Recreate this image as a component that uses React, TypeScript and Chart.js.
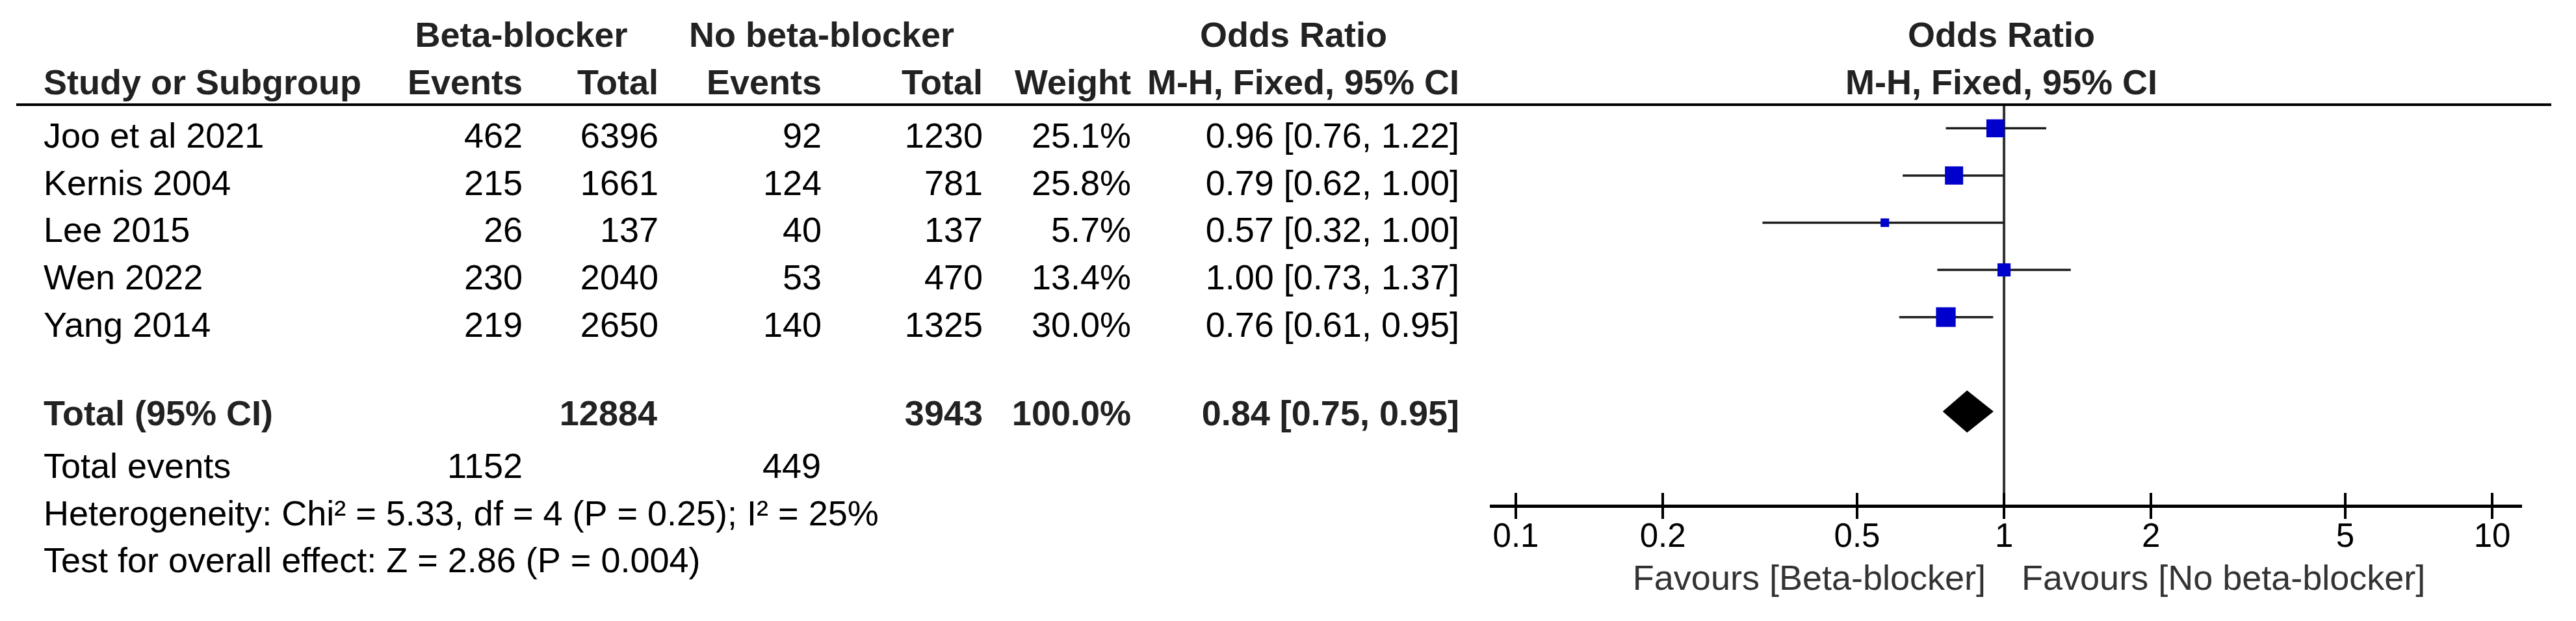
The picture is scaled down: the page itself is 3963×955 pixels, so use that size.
import React, { useEffect, useRef } from 'react';
import { Chart, registerables } from 'chart.js';

Chart.register(...registerables);

// ---------- data ----------
const studyNames = ['Joo et al 2021', 'Kernis 2004', 'Lee 2015', 'Wen 2022', 'Yang 2014'];
const bbEvents = [462, 215, 26, 230, 219];
const bbTotal = [6396, 1661, 137, 2040, 2650];
const noEvents = [92, 124, 40, 53, 140];
const noTotal = [1230, 781, 137, 470, 1325];
const weights = [25.1, 25.8, 5.7, 13.4, 30.0];
const oddsRatios = [0.96, 0.79, 0.57, 1.0, 0.76];
const ciLow = [0.76, 0.62, 0.32, 0.73, 0.61];
const ciHigh = [1.22, 1.0, 1.0, 1.37, 0.95];
const pooledOR = [0.84];
const pooledLow = [0.75];
const pooledHigh = [0.95];
const totalParticipants = [12884, 3943];
const totalEvents = [1152, 449];
const xTickValues = [0.1, 0.2, 0.5, 1, 2, 5, 10];
const xTickLabels = ['0.1', '0.2', '0.5', '1', '2', '5', '10'];
const heterogeneityText = 'Heterogeneity: Chi\u00B2 = 5.33, df = 4 (P = 0.25); I\u00B2 = 25%';
const overallText = 'Test for overall effect: Z = 2.86 (P = 0.004)';
const favoursLeft = 'Favours [Beta-blocker]';
const favoursRight = 'Favours [No beta-blocker]';

const FONT = 'Arial, "Liberation Sans", sans-serif';
const TOTAL_ROW = 6;

const fmt2 = (v: number) => v.toFixed(2);
const ciText = (o: number, l: number, h: number) => `${fmt2(o)} [${fmt2(l)}, ${fmt2(h)}]`;

export default function App() {
  const ref = useRef<HTMLCanvasElement>(null);

  useEffect(() => {
    const canvas = ref.current;
    if (!canvas) return;

    const ciDatasets: any[] = studyNames.map((name, i) => ({
      type: 'line',
      label: name + ' CI',
      data: [
        { x: ciLow[i], y: i },
        { x: ciHigh[i], y: i },
      ],
      borderColor: '#1e1e1e',
      borderWidth: 3.5,
      pointRadius: 0,
      fill: false,
      tension: 0,
      order: 2,
    }));

    const squares: any = {
      type: 'scatter',
      label: 'Odds ratio',
      data: oddsRatios.map((v, i) => ({ x: v, y: i })),
      pointStyle: 'rect',
      pointRadius: weights.map((w) => 3.9 * Math.sqrt(w)),
      pointHoverRadius: weights.map((w) => 3.9 * Math.sqrt(w)),
      backgroundColor: '#0000CC',
      borderColor: '#0000CC',
      borderWidth: 0,
      order: 0,
    };

    const dh = 0.44;
    const diamond: any = {
      type: 'line',
      label: 'Pooled',
      data: [
        { x: pooledLow[0], y: TOTAL_ROW },
        { x: pooledOR[0], y: TOTAL_ROW - dh },
        { x: pooledHigh[0], y: TOTAL_ROW },
        { x: pooledOR[0], y: TOTAL_ROW + dh },
        { x: pooledLow[0], y: TOTAL_ROW },
      ],
      borderColor: '#000',
      backgroundColor: '#000',
      borderWidth: 1,
      pointRadius: 0,
      fill: 'shape',
      tension: 0,
      order: 0,
    };

    const refLine: any = {
      type: 'line',
      label: 'No effect',
      data: [
        { x: 1, y: -0.5 },
        { x: 1, y: 8 },
      ],
      borderColor: '#333',
      borderWidth: 4,
      pointRadius: 0,
      fill: false,
      order: 3,
    };

    const tablePlugin = {
      id: 'forestTable',
      afterDraw(chart: any) {
        const ctx: CanvasRenderingContext2D = chart.ctx;
        const xs = chart.scales.x;
        const ys = chart.scales.y;
        ctx.save();
        const txt = (
          s: string,
          px: number,
          py: number,
          align: CanvasTextAlign,
          bold = false,
          color = '#000',
          size = 54
        ) => {
          ctx.font = `${bold ? 'bold ' : ''}${size}px ${FONT}`;
          ctx.fillStyle = color;
          ctx.textAlign = align;
          ctx.textBaseline = 'alphabetic';
          ctx.fillText(s, px, py);
        };
        const H = '#222';
        // header row 1
        txt('Beta-blocker', 802, 72, 'center', true, H);
        txt('No beta-blocker', 1264, 72, 'center', true, H);
        txt('Odds Ratio', 1990, 72, 'center', true, H);
        const x1 = xs.getPixelForValue(1) - 4;
        txt('Odds Ratio', x1, 72, 'center', true, H);
        // header row 2
        txt('Study or Subgroup', 67, 145, 'left', true, H);
        txt('Events', 804, 145, 'right', true, H);
        txt('Total', 1013, 145, 'right', true, H);
        txt('Events', 1264, 145, 'right', true, H);
        txt('Total', 1512, 145, 'right', true, H);
        txt('Weight', 1740, 145, 'right', true, H);
        txt('M-H, Fixed, 95% CI', 2245, 145, 'right', true, H);
        txt('M-H, Fixed, 95% CI', x1, 145, 'center', true, H);

        // header rule
        ctx.fillStyle = '#000';
        ctx.fillRect(25, 159, 3900, 4);

        // study rows
        studyNames.forEach((name, i) => {
          const by = ys.getPixelForValue(i) + 30;
          txt(name, 67, by, 'left');
          txt(String(bbEvents[i]), 804, by, 'right');
          txt(String(bbTotal[i]), 1013, by, 'right');
          txt(String(noEvents[i]), 1264, by, 'right');
          txt(String(noTotal[i]), 1512, by, 'right');
          txt(weights[i].toFixed(1) + '%', 1740, by, 'right');
          txt(ciText(oddsRatios[i], ciLow[i], ciHigh[i]), 2245, by, 'right');
        });

        // total row
        const ty = ys.getPixelForValue(TOTAL_ROW) + 21;
        txt('Total (95% CI)', 67, ty, 'left', true, H);
        txt(String(totalParticipants[0]), 1011, ty, 'right', true, H);
        txt(String(totalParticipants[1]), 1512, ty, 'right', true, H);
        txt('100.0%', 1740, ty, 'right', true, H);
        txt(ciText(pooledOR[0], pooledLow[0], pooledHigh[0]), 2245, ty, 'right', true, H);

        txt('Total events', 67, 735, 'left');
        txt(String(totalEvents[0]), 804, 735, 'right');
        txt(String(totalEvents[1]), 1263, 735, 'right');
        txt(heterogeneityText, 67, 808, 'left');
        txt(overallText, 67, 880, 'left');

        // upper halves of the axis ticks
        const axisY = chart.chartArea.bottom;
        ctx.strokeStyle = '#000';
        ctx.lineWidth = 4;
        xTickValues.forEach((v) => {
          const px = Math.round(xs.getPixelForValue(v));
          ctx.beginPath();
          ctx.moveTo(px, axisY - 20);
          ctx.lineTo(px, axisY);
          ctx.stroke();
        });

        // favours labels
        const p1 = xs.getPixelForValue(1);
        txt(favoursLeft, p1 - 28, 907, 'right', false, '#333');
        txt(favoursRight, p1 + 27, 907, 'left', false, '#333');
        ctx.restore();
      },
    };

    const chart = new Chart(canvas, {
      type: 'scatter',
      data: {
        datasets: [squares, diamond, ...ciDatasets, refLine],
      },
      options: {
        animation: false,
        responsive: false,
        devicePixelRatio: 1,
        events: [],
        layout: {
          padding: { left: 2294, right: 85, top: 161, bottom: 0 },
        },
        plugins: {
          legend: { display: false },
          tooltip: { enabled: false },
          title: { display: false },
        },
        scales: {
          x: {
            type: 'logarithmic',
            position: 'bottom',
            min: 0.089,
            max: 11.44,
            afterBuildTicks: (axis: any) => {
              axis.ticks = xTickValues.map((v) => ({ value: v }));
            },
            afterFit: (axis: any) => {
              axis.height = 177;
            },
            border: { display: true, color: '#000', width: 5 },
            grid: {
              display: true,
              drawOnChartArea: false,
              drawTicks: true,
              tickLength: 20,
              color: '#000',
              lineWidth: 4,
            },
            ticks: {
              autoSkip: false,
              maxRotation: 0,
              minRotation: 0,
              padding: -2,
              color: '#000',
              font: { family: FONT, size: 51 },
              callback: (_v: any, idx: number) => xTickLabels[idx],
            },
          },
          y: {
            type: 'linear',
            min: -0.5,
            max: 8,
            reverse: true,
            display: false,
          },
        },
      } as any,
      plugins: [tablePlugin],
    });

    return () => chart.destroy();
  }, []);

  return (
    <div style={{ position: 'fixed', left: 0, top: 0, width: 3963, height: 955, background: '#fff' }}>
      <canvas
        ref={ref}
        width={3963}
        height={955}
        style={{ width: '3963px', height: '955px', display: 'block' }}
      />
    </div>
  );
}
